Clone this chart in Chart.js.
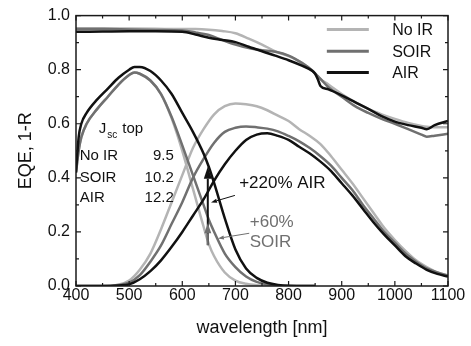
<!DOCTYPE html>
<html>
<head>
<meta charset="utf-8">
<script src="https://cdn.jsdelivr.net/npm/chart.js@4/dist/chart.umd.min.js"></script>
<style>
  html, body { margin: 0; padding: 0; background: #fff; }
  #wrap { width: 471px; height: 346px; }
</style>
</head>
<body>
<div id="wrap"><canvas id="eqe" width="471" height="346"></canvas></div>
<script>
// 1-R curves (wavelength in nm)
var wlR     = [ 400, 450, 500, 550, 600, 625, 650, 675, 700, 725, 750, 775, 800, 825, 845, 850, 855, 860, 875, 900, 925, 950, 975, 1000, 1025, 1050, 1060, 1075, 1100 ];
var rNoIR   = [ 0.953, 0.953, 0.952, 0.951, 0.950, 0.950, 0.948, 0.943, 0.935, 0.915, 0.893, 0.868, 0.850, 0.825, 0.795, 0.785, 0.775, 0.765, 0.745, 0.710, 0.680, 0.655, 0.635, 0.618, 0.603, 0.592, 0.589, 0.587, 0.587 ];
var rSOIR   = [ 0.950, 0.950, 0.949, 0.947, 0.945, 0.938, 0.928, 0.910, 0.893, 0.880, 0.872, 0.866, 0.852, 0.825, 0.796, 0.786, 0.776, 0.766, 0.735, 0.700, 0.665, 0.640, 0.618, 0.600, 0.580, 0.560, 0.552, 0.556, 0.563 ];
var rAIR    = [ 0.940, 0.941, 0.942, 0.942, 0.940, 0.930, 0.918, 0.910, 0.902, 0.885, 0.868, 0.852, 0.835, 0.815, 0.795, 0.785, 0.765, 0.740, 0.727, 0.705, 0.680, 0.655, 0.628, 0.608, 0.595, 0.585, 0.580, 0.595, 0.610 ];

// top cell EQE
var wlTop   = [ 400, 405, 410, 420, 440, 460, 480, 500, 510, 520, 540, 560, 580, 600, 620, 640, 650, 660, 680, 700, 720, 740, 760, 780, 800, 850 ];
var topNoIR = [ 0.42, 0.50, 0.55, 0.60, 0.655, 0.70, 0.745, 0.78, 0.79, 0.785, 0.76, 0.71, 0.62, 0.50, 0.36, 0.22, 0.155, 0.11, 0.05, 0.02, 0.008, 0.003, 0.001, 0, 0, 0 ];
var topSOIR = [ 0.42, 0.50, 0.55, 0.60, 0.655, 0.70, 0.745, 0.78, 0.79, 0.785, 0.76, 0.71, 0.625, 0.52, 0.41, 0.30, 0.245, 0.20, 0.12, 0.07, 0.035, 0.015, 0.006, 0.002, 0, 0 ];
var topAIR  = [ 0.42, 0.55, 0.60, 0.64, 0.69, 0.73, 0.77, 0.80, 0.81, 0.81, 0.795, 0.76, 0.71, 0.64, 0.57, 0.49, 0.44, 0.38, 0.25, 0.135, 0.065, 0.03, 0.012, 0.004, 0.001, 0 ];

// bottom cell EQE
var wlBot   = [ 400, 450, 480, 500, 520, 540, 560, 580, 600, 620, 640, 660, 680, 700, 720, 740, 760, 780, 800, 820, 840, 860, 880, 900, 920, 940, 960, 980, 1000, 1020, 1040, 1060, 1080, 1100 ];
var botNoIR = [ 0, 0, 0.005, 0.02, 0.06, 0.12, 0.21, 0.31, 0.41, 0.51, 0.58, 0.635, 0.665, 0.675, 0.672, 0.665, 0.65, 0.63, 0.61, 0.58, 0.555, 0.525, 0.48, 0.43, 0.38, 0.325, 0.27, 0.215, 0.17, 0.13, 0.095, 0.07, 0.05, 0.04 ];
var botSOIR = [ 0, 0, 0.004, 0.012, 0.04, 0.09, 0.15, 0.23, 0.31, 0.40, 0.47, 0.53, 0.57, 0.585, 0.59, 0.587, 0.582, 0.572, 0.555, 0.535, 0.51, 0.48, 0.445, 0.40, 0.355, 0.30, 0.25, 0.20, 0.16, 0.12, 0.09, 0.065, 0.05, 0.038 ];
var botAIR  = [ 0, 0, 0.002, 0.006, 0.025, 0.055, 0.095, 0.145, 0.20, 0.26, 0.32, 0.39, 0.45, 0.50, 0.54, 0.56, 0.565, 0.555, 0.54, 0.515, 0.49, 0.46, 0.425, 0.38, 0.335, 0.285, 0.235, 0.19, 0.15, 0.11, 0.083, 0.06, 0.045, 0.035 ];

var seriesNames  = [ 'No IR', 'SOIR', 'AIR' ];
var seriesColors = [ '#b4b4b4', '#707070', '#111111' ];
var jscTop       = [ '9.5', '10.2', '12.2' ];

var xTicks = [ 400, 500, 600, 700, 800, 900, 1000, 1100 ];
var yTicks = [ 0, 0.2, 0.4, 0.6, 0.8, 1.0 ];

var FONT = '"Liberation Sans", Arial, sans-serif';

function pts( xs, ys ) {
	return xs.map( function ( x, i ) {
		return { x: x, y: ys[ i ] };
	} );
}

function lineSet( label, xs, ys, color ) {
	return {
		label: label,
		data: pts( xs, ys ),
		borderColor: color,
		borderWidth: 2.5,
		pointRadius: 0,
		fill: false,
		cubicInterpolationMode: 'monotone',
	};
}

// first datasets are drawn on top, so AIR goes first
var datasets = [
	lineSet( 'AIR', wlR, rAIR, seriesColors[ 2 ] ),
	lineSet( 'AIR top', wlTop, topAIR, seriesColors[ 2 ] ),
	lineSet( 'AIR bottom', wlBot, botAIR, seriesColors[ 2 ] ),
	lineSet( 'SOIR', wlR, rSOIR, seriesColors[ 1 ] ),
	lineSet( 'SOIR top', wlTop, topSOIR, seriesColors[ 1 ] ),
	lineSet( 'SOIR bottom', wlBot, botSOIR, seriesColors[ 1 ] ),
	lineSet( 'No IR', wlR, rNoIR, seriesColors[ 0 ] ),
	lineSet( 'No IR top', wlTop, topNoIR, seriesColors[ 0 ] ),
	lineSet( 'No IR bottom', wlBot, botNoIR, seriesColors[ 0 ] ),
];

function drawArrow( ctx, x1, y1, x2, y2, color, width, headLen, headW ) {
	var ang = Math.atan2( y2 - y1, x2 - x1 );
	var bx  = x2 - headLen * Math.cos( ang );
	var by  = y2 - headLen * Math.sin( ang );
	ctx.strokeStyle = color;
	ctx.fillStyle   = color;
	ctx.lineWidth   = width;
	ctx.beginPath();
	ctx.moveTo( x1, y1 );
	ctx.lineTo( bx, by );
	ctx.stroke();
	ctx.beginPath();
	ctx.moveTo( x2, y2 );
	ctx.lineTo( bx + headW / 2 * Math.sin( ang ), by - headW / 2 * Math.cos( ang ) );
	ctx.lineTo( bx - headW / 2 * Math.sin( ang ), by + headW / 2 * Math.cos( ang ) );
	ctx.closePath();
	ctx.fill();
}

// frame, inward ticks, legend and the annotations
var frameAndNotes = {
	id: 'frameAndNotes',
	afterDatasetsDraw: function ( chart ) {
		var ctx = chart.ctx;
		var a   = chart.chartArea;
		var xs  = chart.scales.x;
		var ys  = chart.scales.y;
		var X   = function ( v ) { return xs.getPixelForValue( v ); };
		var Y   = function ( v ) { return ys.getPixelForValue( v ); };

		ctx.save();
		ctx.strokeStyle = '#1a1a1a';
		ctx.lineWidth = 1.5;
		ctx.strokeRect( a.left, a.top, a.right - a.left, a.bottom - a.top );

		ctx.lineWidth = 1.2;
		ctx.beginPath();
		for ( var w = xTicks[ 0 ]; w <= xTicks[ xTicks.length - 1 ]; w += 50 ) {
			var px  = X( w );
			var len = ( w % 100 === 0 ) ? 5 : 3;
			ctx.moveTo( px, a.bottom );
			ctx.lineTo( px, a.bottom - len );
			ctx.moveTo( px, a.top );
			ctx.lineTo( px, a.top + len );
		}
		for ( var k = 0; k <= 10; k++ ) {
			var py = Y( k / 10 );
			var ln = ( k % 2 === 0 ) ? 5 : 3;
			ctx.moveTo( a.left, py );
			ctx.lineTo( a.left + ln, py );
			ctx.moveTo( a.right, py );
			ctx.lineTo( a.right - ln, py );
		}
		ctx.stroke();

		// legend
		var legY = [ 0.949, 0.868, 0.79 ];
		ctx.lineWidth = 3;
		ctx.font = '16px ' + FONT;
		ctx.textBaseline = 'middle';
		ctx.textAlign = 'left';
		for ( var i = 0; i < seriesNames.length; i++ ) {
			ctx.strokeStyle = seriesColors[ i ];
			ctx.beginPath();
			ctx.moveTo( X( 872 ), Y( legY[ i ] ) );
			ctx.lineTo( X( 951 ), Y( legY[ i ] ) );
			ctx.stroke();
			ctx.fillStyle = '#111';
			ctx.fillText( seriesNames[ i ], X( 995 ), Y( legY[ i ] ) + 1 );
		}

		// Jsc table
		ctx.fillStyle = '#111';
		ctx.font = '15px ' + FONT;
		var jx = X( 443 );
		ctx.fillText( 'J', jx, Y( 0.581 ) );
		var jw = ctx.measureText( 'J' ).width;
		ctx.font = '10px ' + FONT;
		ctx.fillText( 'sc', jx + jw + 1, Y( 0.581 ) + 6 );
		var sw = ctx.measureText( 'sc' ).width;
		ctx.font = '15px ' + FONT;
		ctx.fillText( 'top', jx + jw + sw + 6, Y( 0.581 ) );
		var rowY = [ 0.482, 0.40, 0.327 ];
		for ( var r = 0; r < seriesNames.length; r++ ) {
			ctx.textAlign = 'left';
			ctx.fillText( seriesNames[ r ], X( 407 ), Y( rowY[ r ] ) );
			ctx.textAlign = 'right';
			ctx.fillText( jscTop[ r ], X( 584 ), Y( rowY[ r ] ) );
		}

		// +220% / +60% arrows at 648 nm
		drawArrow( ctx, X( 648 ), Y( 0.151 ), X( 648 ), Y( 0.441 ), '#111', 2, 12, 8 );
		drawArrow( ctx, X( 648 ), Y( 0.151 ), X( 648 ), Y( 0.232 ), '#707070', 2, 10, 7 );
		drawArrow( ctx, X( 699 ), Y( 0.335 ), X( 654 ), Y( 0.309 ), '#111', 1, 6, 4 );
		drawArrow( ctx, X( 726 ), Y( 0.195 ), X( 667 ), Y( 0.176 ), '#707070', 1, 6, 4 );

		ctx.textAlign = 'left';
		ctx.font = '17px ' + FONT;
		ctx.fillStyle = '#111';
		ctx.fillText( '+220% AIR', X( 707 ), Y( 0.379 ) );
		ctx.fillStyle = '#707070';
		ctx.fillText( '+60%', X( 727 ), Y( 0.235 ) );
		ctx.fillText( 'SOIR', X( 727 ), Y( 0.162 ) );
		ctx.restore();
	},
};

new Chart( document.getElementById( 'eqe' ), {
	type: 'line',
	data: { datasets: datasets },
	plugins: [ frameAndNotes ],
	options: {
		responsive: false,
		animation: false,
		devicePixelRatio: 1,
		layout: { padding: { left: 0, right: 23, top: 14, bottom: 0 } },
		plugins: {
			legend: { display: false },
			tooltip: { enabled: false },
		},
		scales: {
			x: {
				type: 'linear',
				min: 400,
				max: 1100,
				afterFit: function ( scale ) { scale.height = 60; },
				afterBuildTicks: function ( scale ) {
					scale.ticks = xTicks.map( function ( v ) { return { value: v }; } );
				},
				grid: { display: false, drawTicks: false },
				border: { display: false },
				ticks: {
					padding: 0,
					color: '#111',
					font: { family: FONT, size: 16 },
					maxRotation: 0,
					callback: function ( v ) { return String( v ); },
				},
				title: {
					display: true,
					text: 'wavelength [nm]',
					color: '#111',
					font: { family: FONT, size: 18 },
					padding: { top: 0, bottom: 7 },
				},
			},
			y: {
				min: 0,
				max: 1,
				afterFit: function ( scale ) { scale.width = 76; },
				afterBuildTicks: function ( scale ) {
					scale.ticks = yTicks.map( function ( v ) { return { value: v }; } );
				},
				grid: { display: false, drawTicks: false },
				border: { display: false },
				ticks: {
					padding: 6,
					color: '#111',
					font: { family: FONT, size: 16 },
					callback: function ( v ) { return v.toFixed( 1 ); },
				},
				title: {
					display: true,
					text: 'EQE, 1-R',
					color: '#111',
					font: { family: FONT, size: 18 },
					padding: { top: 15, bottom: 0 },
				},
			},
		},
	},
} );
</script>
</body>
</html>
